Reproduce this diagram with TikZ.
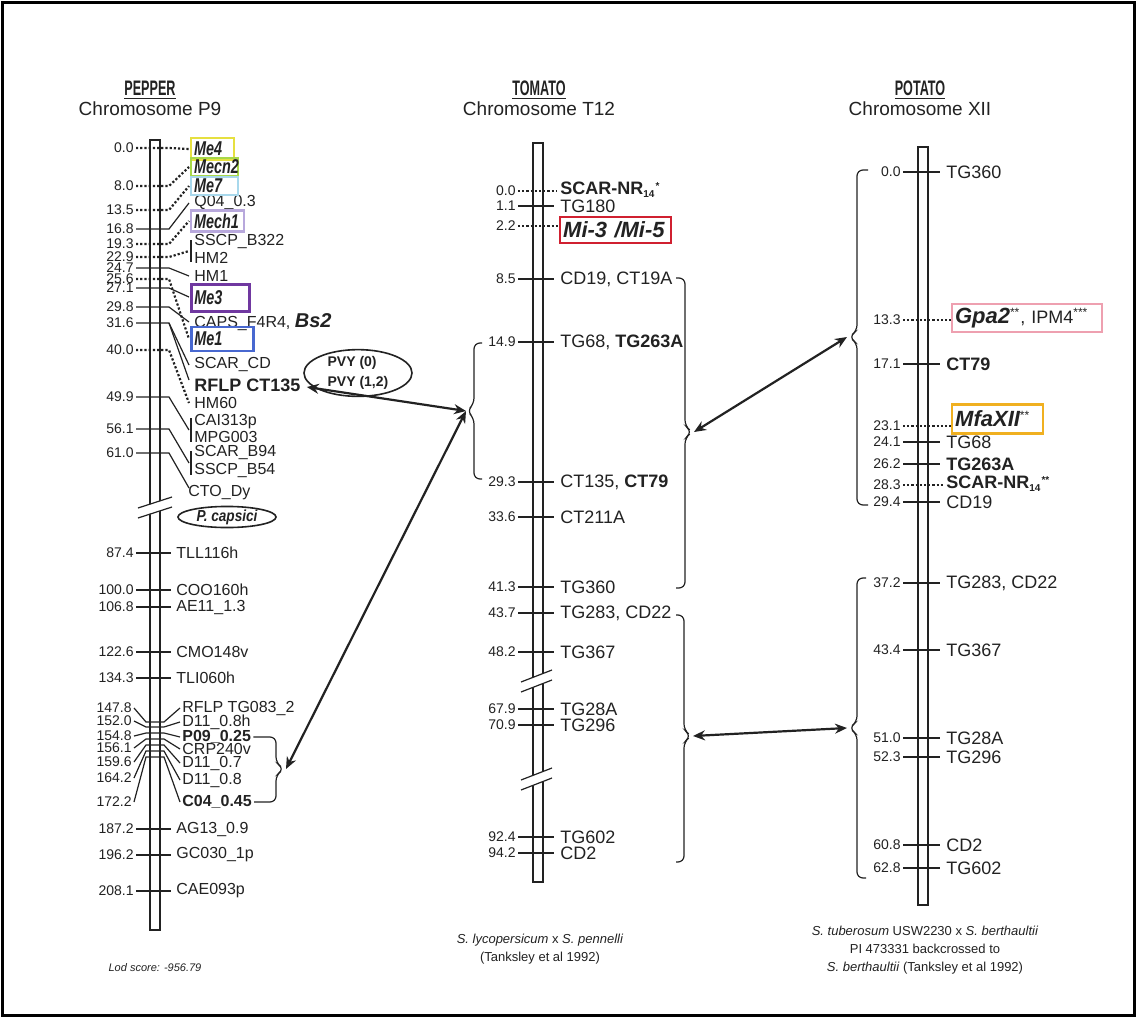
\documentclass[tikz,border=0pt]{standalone}
\usepackage{fontspec}
\setmainfont{Liberation Sans}
\usetikzlibrary{arrows.meta, positioning, shapes.geometric}

\definecolor{meyel}{HTML}{E6E040}
\definecolor{megrn}{HTML}{A8D848}
\definecolor{meblu}{HTML}{A8D8EC}
\definecolor{melav}{HTML}{B8A8DC}
\definecolor{mepur}{HTML}{7038A0}
\definecolor{medbl}{HTML}{4868D0}
\definecolor{mired}{HTML}{D02030}
\definecolor{gppnk}{HTML}{EEA0B0}
\definecolor{mforg}{HTML}{F0B020}
\definecolor{ink}{HTML}{222222}

\newcommand{\gname}[1]{\scalebox{0.72}[1]{\bfseries\itshape #1}}
\newcommand{\hdname}[1]{{\fontsize{10.5}{11}\selectfont\scalebox{0.6}[1]{\bfseries\underline{#1}}}}

\begin{document}
\begin{tikzpicture}[x=0.5pt, y=-0.5pt, color=ink,
  num/.style={font=\fontsize{7}{8}\selectfont, anchor=east, inner sep=1pt},
  plab/.style={font=\fontsize{8}{9}\selectfont, anchor=west, inner sep=1pt},
  tlab/.style={font=\fontsize{9}{10}\selectfont, anchor=west, inner xsep=1.5pt, inner ysep=1pt},
  genebox/.style={draw=#1, line width=1.1pt, anchor=west, inner xsep=1.5pt, inner ysep=0pt, align=left, font=\fontsize{10}{11}\selectfont},
  mtick/.style={line width=0.6pt, shorten >=1.5pt},
  dotln/.style={line width=1.1pt, densely dotted},
  chrom/.style={line width=0.7pt},
  brk/.style={line width=0.6pt},
  brc/.style={line width=0.6pt, rounded corners=3pt},
  link/.style={{Stealth[length=6pt,width=5pt]}-{Stealth[length=6pt,width=5pt]}, line width=1.1pt},
  ttl/.style={font=\fontsize{9.5}{10}\selectfont, align=center},
  capt/.style={font=\fontsize{6.5}{9}\selectfont, align=center}]
  \useasboundingbox (0,0) rectangle (1136,1017);
  \fill[white] (0,0) rectangle (1136,1017);
  \draw[black, line width=1.5pt] (2,2) rectangle (1134,1015);

  % headings
  \node[ttl] (pephd) at (150,98) {\hdname{PEPPER}\\Chromosome P9};
  \node[ttl] (tomhd) at (539,98) {\hdname{TOMATO}\\Chromosome T12};
  \node[ttl] (pothd) at (920,98) {\hdname{POTATO}\\Chromosome XII};

  % chromosome bars
  \draw[chrom] (150,140) rectangle (160,930);
  \draw[chrom] (533,143) rectangle (543,882);
  \draw[chrom] (918,147) rectangle (928,905);
  % breaks
  \fill[white] (139,508) -- (172,497) -- (172,507) -- (139,518) -- cycle;
  \draw[brk] (138,508) -- (172,497);
  \draw[brk] (138,518) -- (172,507);
  \fill[white] (522,682) -- (551,670) -- (551,680) -- (522,692) -- cycle;
  \draw[brk] (521,682) -- (552,670);
  \draw[brk] (521,692) -- (552,680);
  \fill[white] (522,780) -- (551,768) -- (551,778) -- (522,790) -- cycle;
  \draw[brk] (521,780) -- (552,768);
  \draw[brk] (521,790) -- (552,778);

  % pepper, upper cluster
  \foreach \ny/\num/\ly/\sty [count=\i] in {148/0.0/149/dotln, 186/8.0/167/dotln,
      210/13.5/186/dotln, 229/16.8/203/mtick, 244/19.3/221/dotln, 257/22.9/251/dotln,
      268/24.7/276/mtick, 279/25.6/339/dotln, 288/27.1/297/mtick, 307/29.8/322/mtick,
      323/31.6/365/mtick, 350/40.0/403/dotln, 397/49.9/430/mtick, 429/56.1/463/mtick,
      453/61.0/488/mtick}
  {
    \node[num] (pu\i) at (136,\ny) {\num};
    \coordinate (pv\i) at (189,\ly);
    \draw[\sty, shorten >=0pt] (pu\i.east) -- (169,\ny) -- (pv\i);
  }
  \foreach \ly/\lab [count=\j] in {203/Q04\_0.3, 242/SSCP\_B322, 258/HM2, 276/HM1,
      365/SCAR\_CD, 403/HM60, 422/CAI313p, 437/MPG003, 453/SCAR\_B94, 470/SSCP\_B54}
    \node[plab] (pl\j) at (192,\ly) {\lab};
  \node[plab] (ctody) at (186,493) {CTO\_Dy};
  \node[plab] (caps) at (192,322) {CAPS\_F4R4, {\fontsize{10}{11}\selectfont\bfseries\itshape Bs2}};
  \node[plab, font=\fontsize{9}{10}\selectfont\bfseries] (pct) at (192,385) {RFLP CT135};
  \draw[mtick, shorten >=0pt] (pu11.east) ++(33,0) -- (189,380);
  \draw[mtick, shorten >=0pt] (191,240) -- (191,262);
  \draw[mtick, shorten >=0pt] (191,418) -- (191,442);
  \draw[mtick, shorten >=0pt] (191,451) -- (191,475);

  % pepper genes
  \node[genebox=meyel, text width=18.5pt, minimum height=11pt] (me4) at (190,149) {\gname{Me4}};
  \node[genebox=megrn, text width=20.5pt, minimum height=9pt] (mecn2) at (190,167) {\gname{Mecn2}};
  \node[genebox=meblu, text width=20.5pt, minimum height=9pt] (me7) at (190,186) {\gname{Me7}};
  \node[genebox=melav, text width=23.5pt, minimum height=10.5pt] (mech1) at (190,221) {\gname{Mech1}};
  \node[genebox=mepur, text width=26pt, minimum height=13.5pt, line width=1.4pt] (me3) at (190,298) {\gname{Me3}};
  \node[genebox=medbl, text width=28pt, minimum height=12pt, line width=1.4pt] (me1) at (190,339) {\gname{Me1}};

  \node[draw, ellipse, minimum width=49pt, minimum height=10pt, inner sep=0pt, line width=0.8pt,
    font=\fontsize{8}{9}\selectfont\bfseries\itshape] (pcap) at (227,517) {\scalebox{0.85}[1]{P. capsici}};
  \node[draw, ellipse, minimum width=54pt, minimum height=20pt, inner sep=0pt, line width=0.8pt,
    align=left, font=\fontsize{7}{10}\selectfont\bfseries] (pvy) at (358,373) {PVY (0)\\PVY (1,2)};

  % pepper, plain markers
  \foreach \y/\num/\lab [count=\i] in {553/87.4/TLL116h, 590/100.0/COO160h, 607/106.8/AE11\_1.3,
      652/122.6/CMO148v, 678/134.3/TLI060h, 829/187.2/AG13\_0.9, 855/196.2/GC030\_1p, 891/208.1/CAE093p}
  {
    \node[num] (pn\i) at (136,\y) {\num};
    \node[plab] (pm\i) at (174,\y) {\lab};
    \draw[mtick] (pn\i.east) -- (pm\i.west);
  }

  % pepper, lower cluster
  \foreach \ny/\num/\cy/\ly/\lab [count=\i] in {708/147.8/722/708/RFLP TG083\_2,
      721/152.0/727/722/D11\_0.8h, 736/154.8/733/737/\textbf{P09\_0.25},
      748/156.1/739/749/CRP240v, 762/159.6/745/763/D11\_0.7,
      778/164.2/751/780/D11\_0.8, 802/172.2/757/802/\textbf{C04\_0.45}}
  {
    \node[num] (pw\i) at (134,\ny) {\num};
    \node[plab] (px\i) at (180,\ly) {\lab};
    \draw[line width=0.6pt] (pw\i.east) -- (146,\cy) -- (164,\cy) -- (px\i.west);
  }
  \draw[brc] (px3.east) -- (276,737) -- (276,763) -- (284,769) -- (276,775) -- (276,802) -- (px7.east);
  \coordinate (pepbr) at (286,769);

  % tomato
  \node[num] (tn0) at (518,191) {0.0};
  \node[tlab, font=\fontsize{9}{10}\selectfont\bfseries] (tscar) at (557,190) {SCAR-NR{\fontsize{6}{6}\selectfont\textsubscript{14}\textsuperscript{*}}};
  \draw[dotln] (tn0.east) -- (tn0.east -| tscar.west);
  \node[num] (tn00) at (518,226) {2.2};
  \node[genebox=mired, text width=52.5pt, minimum height=13pt, line width=1.2pt,
    font=\fontsize{11}{12}\selectfont\bfseries\itshape] (tmi) at (559,230) {Mi-3 /Mi-5};
  \draw[dotln] (tn00.east) -- (tn00.east -| tmi.west);
  \foreach \y/\num/\lab [count=\i] in {206/1.1/TG180, 279/8.5/{CD19, CT19A}, 342/14.9/{TG68, \textbf{TG263A}},
      482/29.3/{CT135, \textbf{CT79}}, 517/33.6/CT211A, 587/41.3/TG360, 613/43.7/{TG283, CD22},
      652/48.2/TG367, 709/67.9/TG28A, 725/70.9/TG296, 837/92.4/TG602, 853/94.2/CD2}
  {
    \node[num] (tn\i) at (518,\y) {\num};
    \node[tlab] (tl\i) at (557,\y) {\lab};
    \draw[mtick] (tn\i.east) -- (tl\i.west);
  }
  \draw[brc] (482,343) -- (474,343) -- (474,404) -- (467,411) -- (474,418) -- (474,479) -- (482,479);
  \coordinate (tomL) at (466,411);
  \draw[brc] (676,278) -- (685,278) -- (685,426) -- (692,432) -- (685,438) -- (685,588) -- (676,588);
  \coordinate (tomR1) at (694,432);
  \draw[brc] (676,615) -- (684,615) -- (684,730) -- (691,736) -- (684,742) -- (684,862) -- (676,862);
  \coordinate (tomR2) at (693,736);

  % potato
  \foreach \y/\num/\lab [count=\i] in {172/0.0/TG360, 364/17.1/\textbf{CT79}, 442/24.1/TG68,
      464/26.2/\textbf{TG263A}, 502/29.4/CD19, 583/37.2/{TG283, CD22}, 650/43.4/TG367,
      738/51.0/TG28A, 757/52.3/TG296, 845/60.8/CD2, 868/62.8/TG602}
  {
    \node[num] (qn\i) at (903,\y) {\num};
    \node[tlab] (ql\i) at (943,\y) {\lab};
    \draw[mtick] (qn\i.east) -- (ql\i.west);
  }
  \node[num] (qg1) at (903,320) {13.3};
  \node[genebox=gppnk, text width=72pt, minimum height=14pt, line width=1pt,
    font=\fontsize{9}{10}\selectfont] (gpa2) at (951,318) {{\fontsize{11}{12}\selectfont\bfseries\itshape Gpa2}\textsuperscript{**}, IPM4\textsuperscript{***}};
  \draw[dotln] (qg1.east) -- (qg1.east -| gpa2.west);
  \node[num] (qg2) at (903,426) {23.1};
  \node[genebox=mforg, text width=42.5pt, minimum height=14.5pt, line width=1.2pt,
    font=\fontsize{9}{10}\selectfont] (mfa) at (951,419) {{\fontsize{11}{12}\selectfont\bfseries\itshape MfaXII}\textsuperscript{**}};
  \draw[dotln] (qg2.east) -- (qg2.east -| mfa.west);
  \node[num] (qg3) at (903,485) {28.3};
  \node[tlab, font=\fontsize{9}{10}\selectfont\bfseries] (qscar) at (943,484) {SCAR-NR{\fontsize{6}{6}\selectfont\textsubscript{14}\textsuperscript{**}}};
  \draw[dotln] (qg3.east) -- (qg3.east -| qscar.west);
  \draw[brc] (868,170) -- (857,170) -- (857,331) -- (849,337) -- (857,343) -- (857,505) -- (868,505);
  \coordinate (potL1) at (847,337);
  \draw[brc] (866,578) -- (857,578) -- (857,722) -- (849,728) -- (857,734) -- (857,878) -- (866,878);
  \coordinate (potL2) at (847,728);

  % links
  \draw[link] ([xshift=2pt,yshift=-1pt]pct.east) -- (tomL);
  \draw[link] (pepbr) -- (tomL);
  \draw[link] (tomR1) -- (potL1);
  \draw[link] (tomR2) -- (potL2);

  % captions
  \node[font=\fontsize{5.5}{6}\selectfont\itshape] (lod) at (155,968) {Lod score: -956.79};
  \node[capt] (tcap) at (540,949) {\textit{S. lycopersicum} x \textit{S. pennelli}\\(Tanksley et al 1992)};
  \node[capt] (qcap) at (925,950) {\textit{S. tuberosum} USW2230 x \textit{S. berthaultii}\\PI 473331 backcrossed to\\\textit{S. berthaultii} (Tanksley et al 1992)};
\end{tikzpicture}
\end{document}
